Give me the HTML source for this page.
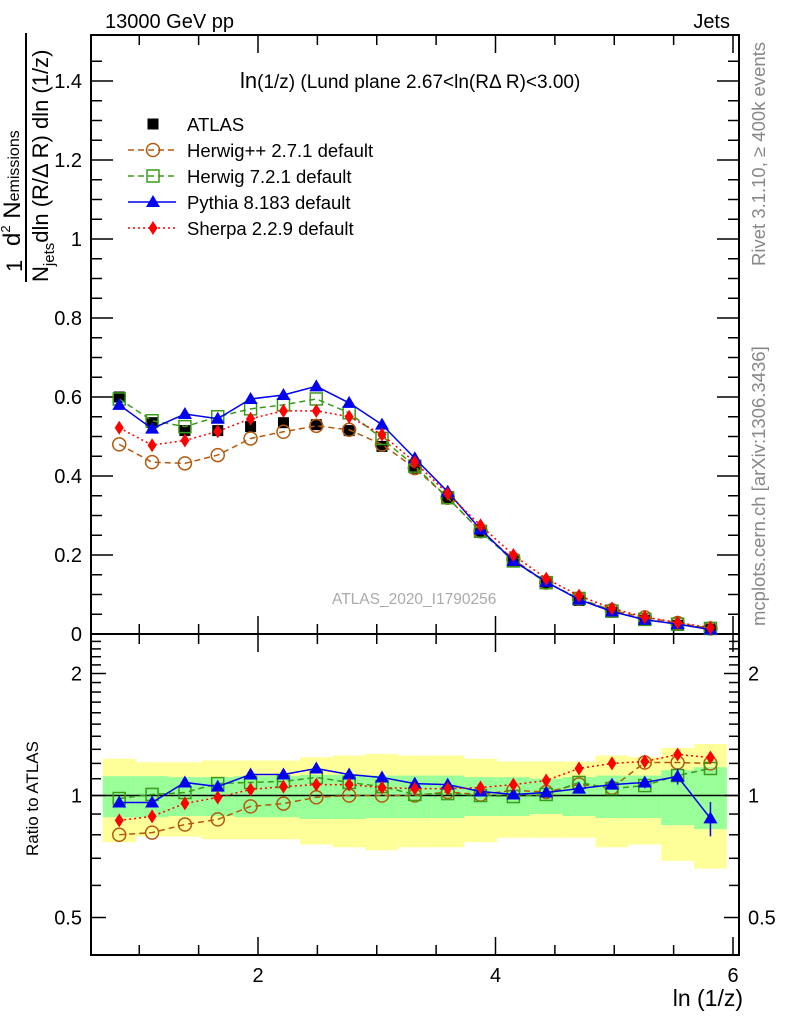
<!DOCTYPE html>
<html><head><meta charset="utf-8"><style>
html,body{margin:0;padding:0;background:#fff;}
svg{display:block;font-family:"Liberation Sans",sans-serif;}
</style></head><body>
<svg id="chart" width="786" height="1024" viewBox="0 0 786 1024" xmlns="http://www.w3.org/2000/svg">
<g id="bands"></g>
<g id="axes"></g>
<g id="series"></g>
<text x="105" y="28" font-size="20">13000 GeV pp</text>
<text x="730" y="28" font-size="20" text-anchor="end">Jets</text>
<text x="240" y="88" font-size="19"><tspan font-size="22">ln</tspan>(1/z) (Lund plane 2.67&lt;ln(RΔ R)&lt;3.00)</text>
<text x="332" y="604" font-size="15.5" fill="#aaa">ATLAS_2020_I1790256</text>
<text transform="translate(765,266) rotate(-90)" font-size="18.5" fill="#888">Rivet 3.1.10, ≥ 400k events</text>
<text transform="translate(765,626) rotate(-90)" font-size="18.5" fill="#888">mcplots.cern.ch [arXiv:1306.3436]</text>
<text transform="translate(38,856) rotate(-90)" font-size="17">Ratio to ATLAS</text>
<text x="743" y="1006" font-size="23" text-anchor="end">ln (1/z)</text>
<g>
<text transform="translate(22,272) rotate(-90)" font-size="22">1</text>
<line x1="26" y1="33" x2="26" y2="282" stroke="#000" stroke-width="2"/>
<text transform="translate(20,246) rotate(-90)" font-size="24">d<tspan font-size="13" dy="-10">2</tspan><tspan dy="10"> N</tspan><tspan font-size="16" dy="-1">emissions</tspan></text>
<text transform="translate(48,282) rotate(-90)" font-size="22">N<tspan font-size="15" dy="6">jets</tspan><tspan dy="-6">dln (R/Δ R) dln (1/z)</tspan></text>
</g>
<g id="legend"></g>
</svg>
<script>
const binEdges=[0.693,0.970,1.246,1.523,1.799,2.076,2.353,2.629,2.906,3.182,3.459,3.736,4.012,4.289,4.565,4.842,5.119,5.395,5.672,5.948];
const atlas=[0.60,0.535,0.515,0.515,0.525,0.535,0.53,0.515,0.475,0.42,0.345,0.26,0.185,0.13,0.085,0.055,0.035,0.022,0.012];
const herwigpp=[0.48,0.435,0.432,0.453,0.495,0.512,0.527,0.517,0.48,0.42,0.345,0.26,0.19,0.13,0.09,0.06,0.042,0.028,0.014];
const herwig7=[0.595,0.54,0.525,0.55,0.57,0.58,0.595,0.56,0.495,0.425,0.345,0.26,0.185,0.13,0.09,0.058,0.037,0.025,0.014];
const pythia=[0.58,0.52,0.557,0.545,0.595,0.605,0.627,0.585,0.53,0.445,0.36,0.265,0.185,0.132,0.087,0.057,0.036,0.025,0.011];
const sherpa=[0.522,0.478,0.49,0.513,0.545,0.565,0.565,0.55,0.505,0.435,0.355,0.275,0.2,0.14,0.097,0.065,0.043,0.029,0.016];
const ratioHerwigpp=[0.80,0.81,0.848,0.873,0.94,0.955,0.99,1.0,1.0,1.0,1.02,1.005,1.03,1.02,1.065,1.045,1.206,1.206,1.2];
const ratioHerwig7=[0.983,1.006,1.017,1.07,1.077,1.083,1.108,1.077,1.052,1.006,1.011,1.0,0.994,1.006,1.077,1.04,1.058,1.12,1.166];
const ratioPythia=[0.961,0.961,1.077,1.052,1.127,1.127,1.166,1.127,1.108,1.07,1.064,1.023,1.006,1.017,1.04,1.064,1.077,1.114,0.878];
const ratioSherpa=[0.868,0.888,0.956,0.989,1.035,1.052,1.064,1.064,1.046,1.04,1.04,1.046,1.064,1.089,1.166,1.2,1.213,1.262,1.241];
const pythiaRatioErr=[0,0,0,0,0,0,0,0,0,0,0,0,0,0,0,0.03,0.035,0.05,0.085];
const totalErr=[0.233,0.208,0.208,0.22,0.22,0.22,0.243,0.255,0.267,0.255,0.255,0.233,0.213,0.213,0.213,0.255,0.243,0.31,0.34];
const statErr=[0.116,0.116,0.11,0.11,0.116,0.116,0.125,0.125,0.12,0.12,0.12,0.11,0.11,0.1,0.11,0.12,0.12,0.155,0.174];
const xTicksMajor=[2,4,6];
const mainYTicks=[0,0.2,0.4,0.6,0.8,1,1.2,1.4];
const mainYLabels=["0","0.2","0.4","0.6","0.8","1","1.2","1.4"];
const ratioMajor=[0.5,1,2];
const ratioLabels=["0.5","1","2"];

const NS="http://www.w3.org/2000/svg";
const L=91,Rr=739,T=35,MB=634,RB=955;
const X=v=>20.5+118.75*v;
const Y=v=>634-395*v;
const RY=r=>795.5-122*Math.log2(r);
const centers=binEdges.slice(0,-1).map((e,i)=>(e+binEdges[i+1])/2);
function mk(tag,attrs,parent){const e=document.createElementNS(NS,tag);for(const k in attrs)e.setAttribute(k,attrs[k]);parent.appendChild(e);return e;}
const axes=document.getElementById('axes'),bands=document.getElementById('bands'),ser=document.getElementById('series'),leg=document.getElementById('legend');

centers.forEach((c,i)=>{
 const x1=X(binEdges[i]),x2=X(binEdges[i+1]);
 const y=mk('rect',{x:x1,y:RY(1+totalErr[i]),width:x2-x1,height:RY(1-totalErr[i])-RY(1+totalErr[i]),fill:'#ffff99'},bands);
 
 
 const g=mk('rect',{x:x1,y:RY(1+statErr[i]),width:x2-x1,height:RY(1-statErr[i])-RY(1+statErr[i]),fill:'#99ff99'},bands);
 
 
});

[[T,MB],[MB,RB]].forEach(([a,b])=>mk('rect',{x:L,y:a,width:Rr-L,height:b-a,fill:'none',stroke:'#000','stroke-width':2},axes));
mk('line',{x1:L,y1:RY(1),x2:Rr,y2:RY(1),stroke:'#000','stroke-width':1.5},axes);
for(let v=1;v<=6.001;v+=0.5){
 const maj=Math.abs(v-Math.round(v/2)*2)<1e-6;const len=maj?18:10;const x=X(v);
 [MB,RB].forEach(b=>{mk('line',{x1:x,y1:b,x2:x,y2:b-len,stroke:'#000','stroke-width':1.5},axes);});
 mk('line',{x1:x,y1:T,x2:x,y2:T+len,stroke:'#000','stroke-width':1.5},axes);
 mk('line',{x1:x,y1:MB,x2:x,y2:MB+len,stroke:'#000','stroke-width':1.5},axes);
}
xTicksMajor.forEach(v=>{const t=mk('text',{x:X(v),y:982,'font-size':20,'text-anchor':'middle'},axes);t.textContent=v;
 
 });
for(let v=0;v<=1.5;v+=0.05){const y=Y(v);if(y<T)break;const maj=Math.abs(v*5-Math.round(v*5))<1e-6;const len=maj?22:11;
 mk('line',{x1:L,y1:y,x2:L+len,y2:y,stroke:'#000','stroke-width':1.5},axes);
 mk('line',{x1:Rr,y1:y,x2:Rr-len,y2:y,stroke:'#000','stroke-width':1.5},axes);}
mainYTicks.forEach((v,i)=>{const t=mk('text',{x:82,y:Y(v)+7,'font-size':20,'text-anchor':'end'},axes);t.textContent=mainYLabels[i];
 
 });
for(let r=0.5;r<=2.45;r+=0.1){const y=RY(r);const maj=ratioMajor.some(m=>Math.abs(m-r)<1e-6);const len=maj?15:10;
 mk('line',{x1:L,y1:y,x2:L+len,y2:y,stroke:'#000','stroke-width':1.5},axes);
 mk('line',{x1:Rr,y1:y,x2:Rr-len,y2:y,stroke:'#000','stroke-width':1.5},axes);}
ratioMajor.forEach((v,i)=>{[[82,'end'],[748,'start']].forEach(([x,a])=>{const t=mk('text',{x:x,y:RY(v)+7,'font-size':20,'text-anchor':a},axes);t.textContent=ratioLabels[i];
 
 });});

function marker(kind,x,y,col,g){
 if(kind==='sq')mk('rect',{x:x-5.5,y:y-5.5,width:11,height:11,fill:'#000'},g);
 else if(kind==='circ')mk('circle',{cx:x,cy:y,r:6.5,fill:'none',stroke:col,'stroke-width':1.5},g);
 else if(kind==='osq')mk('rect',{x:x-6,y:y-6,width:12,height:12,fill:'none',stroke:col,'stroke-width':1.5},g);
 else if(kind==='tri')mk('polygon',{points:`${x},${y-7} ${x-7},${y+5} ${x+7},${y+5}`,fill:col},g);
 else if(kind==='dia')mk('polygon',{points:`${x},${y-7} ${x-4.5},${y} ${x},${y+7} ${x+4.5},${y}`,fill:col},g);
}
const styles=[
 {name:'herwigpp',main:herwigpp,ratio:ratioHerwigpp,col:'#b35a0f',dash:'6,4',kind:'circ',label:'Herwig++ 2.7.1 default'},
 {name:'herwig7',main:herwig7,ratio:ratioHerwig7,col:'#3a9a1a',dash:'6,4',kind:'osq',label:'Herwig 7.2.1 default'},
 {name:'pythia',main:pythia,ratio:ratioPythia,col:'#0000ee',dash:'',kind:'tri',label:'Pythia 8.183 default'},
 {name:'sherpa',main:sherpa,ratio:ratioSherpa,col:'#ff0000',dash:'2,3',kind:'dia',label:'Sherpa 2.2.9 default'}];
const ga=mk('g',{},ser);


atlas.forEach((v,i)=>marker('sq',X(centers[i]),Y(v),'#000',ga));
styles.forEach(s=>{
 const g=mk('g',{},ser);
 
 
 const a={fill:'none',stroke:s.col,'stroke-width':1.5};if(s.dash)a['stroke-dasharray']=s.dash;
 a.points=s.main.map((v,i)=>X(centers[i])+','+Y(v)).join(' ');mk('polyline',a,g);
 const b=Object.assign({},a);b.points=s.ratio.map((v,i)=>X(centers[i])+','+RY(v)).join(' ');mk('polyline',b,g);
 s.main.forEach((v,i)=>marker(s.kind,X(centers[i]),Y(v),s.col,g));
 s.ratio.forEach((v,i)=>{
  if(s.name==='pythia'&&pythiaRatioErr[i]>0){const x=X(centers[i]);
   mk('line',{x1:x,y1:RY(v+pythiaRatioErr[i]),x2:x,y2:RY(v-pythiaRatioErr[i]),stroke:s.col,'stroke-width':1.5},g);}
  marker(s.kind,X(centers[i]),RY(v),s.col,g);});
});
const le=mk('g',{},leg);


marker('sq',153,124,'#000',le);
mk('text',{x:187,y:131,'font-size':18.5},le).textContent='ATLAS';
styles.forEach((s,i)=>{const y=150+26*i;const g=mk('g',{},leg);
 
 
 const a={x1:128,y1:y,x2:176,y2:y,stroke:s.col,'stroke-width':1.5};if(s.dash)a['stroke-dasharray']=s.dash;mk('line',a,g);
 marker(s.kind,153,y,s.col,g);
 mk('text',{x:187,y:y+7,'font-size':18.5},g).textContent=s.label;});
</script>
</body></html>
